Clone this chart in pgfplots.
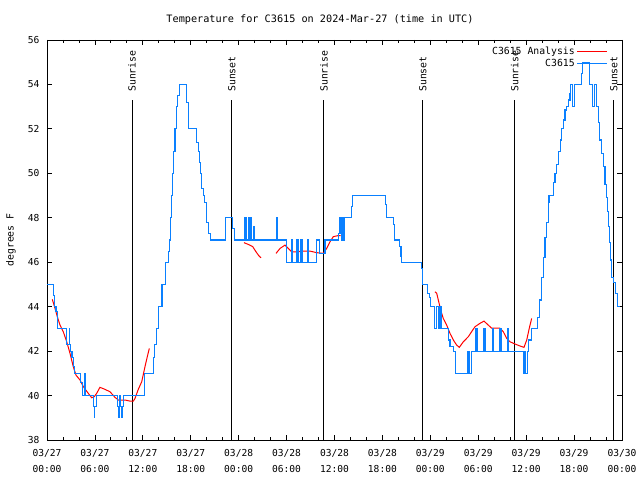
\documentclass[border=0pt]{standalone}
\usepackage{fontspec}
\setmainfont{DejaVu Sans Mono}
\usepackage{pgfplots}
\pgfplotsset{compat=1.18}
\definecolor{obsblue}{HTML}{0A80FF}
\definecolor{anared}{HTML}{FF0000}
\newcommand{\gfont}{\fontsize{9.8}{11}\selectfont}
\newcommand{\tfont}{\fontsize{9.6}{16}\selectfont}

\begin{document}
\begin{tikzpicture}[x=1pt,y=1pt]
\begin{axis}[
    at={(47pt,40pt)}, anchor=south west,
    scale only axis,
    width=575pt, height=400pt,
    xmin=0, xmax=72, ymin=38, ymax=56,
    xtick={0,6,...,72},
    minor xtick={2,4,8,10,14,16,20,22,26,28,32,34,38,40,44,46,50,52,56,58,62,64,68,70},
    xticklabels={03/27\\00:00,03/27\\06:00,03/27\\12:00,03/27\\18:00,
                 03/28\\00:00,03/28\\06:00,03/28\\12:00,03/28\\18:00,
                 03/29\\00:00,03/29\\06:00,03/29\\12:00,03/29\\18:00,03/30\\00:00},
    xticklabel style={align=center, font=\tfont, yshift=-6pt},
    yticklabel style={font=\tfont, xshift=-4pt},
    ytick={38,40,...,56},
    tick pos=both, tick align=inside,
    major tick length=5pt, minor tick length=3pt,
    tick style={black, line width=0.8pt},
    axis line style={line width=0.8pt},
    /pgf/number format/assume math mode=true,
    unbounded coords=jump,
    legend style={at={(1,1)}, anchor=north east, xshift=-11pt, yshift=-3pt,
        draw=none, fill=none, font=\gfont, row sep=-1pt,
        legend cell align=right},
    legend plot pos=right,
    legend image code/.code={\draw[#1] (0pt,0pt) -- (30pt,0pt);},
]
% sunrise / sunset lines
\addplot[black, line width=0.9pt, forget plot] coordinates {(10.64,38) (10.64,53.3)};
\addplot[black, line width=0.9pt, forget plot] coordinates {(23.15,38) (23.15,53.3)};
\addplot[black, line width=0.9pt, forget plot] coordinates {(34.67,38) (34.67,53.3)};
\addplot[black, line width=0.9pt, forget plot] coordinates {(47.06,38) (47.06,53.3)};
\addplot[black, line width=0.9pt, forget plot] coordinates {(58.57,38) (58.57,53.3)};
\addplot[black, line width=0.9pt, forget plot] coordinates {(70.96,38) (70.96,53.3)};
\node[rotate=90, anchor=west, font=\gfont, inner sep=0pt] at (axis cs:10.64,53.66) {Sunrise};
\node[rotate=90, anchor=west, font=\gfont, inner sep=0pt] at (axis cs:23.15,53.66) {Sunset};
\node[rotate=90, anchor=west, font=\gfont, inner sep=0pt] at (axis cs:34.67,53.66) {Sunrise};
\node[rotate=90, anchor=west, font=\gfont, inner sep=0pt] at (axis cs:47.06,53.66) {Sunset};
\node[rotate=90, anchor=west, font=\gfont, inner sep=0pt] at (axis cs:58.57,53.66) {Sunrise};
\node[rotate=90, anchor=west, font=\gfont, inner sep=0pt] at (axis cs:70.96,53.66) {Sunset};

% analysis
\addplot[anared, line width=1pt] coordinates {
(0.66,44.33) (1.0,43.93) (1.29,43.55) (1.63,43.17) (2.04,42.87) (2.47,42.42)
(2.88,41.9) (3.29,41.3) (3.63,40.92) (4.13,40.7) (4.55,40.4) (5.17,40.1)
(5.6,39.9) (5.92,39.95) (6.22,40.1) (6.63,40.37) (7.26,40.28) (7.89,40.17)
(8.51,39.92) (8.93,39.8) (9.77,39.8) (10.39,39.75) (10.81,39.75) (11.02,39.87)
(11.43,40.28) (11.86,40.62) (12.27,41.3) (12.56,41.75) (12.81,42.12)
(18,nan)
(24.67,46.88) (25.21,46.8) (25.76,46.7) (26.17,46.47) (26.55,46.28) (26.8,46.2)
(27.5,nan)
(28.68,46.4) (29.18,46.62) (29.8,46.77) (30.21,46.62) (30.64,46.47) (31.27,46.47)
(32.1,46.5) (32.93,46.5) (33.77,46.43) (34.6,46.4) (35.02,46.62) (35.44,46.92)
(35.85,47.15) (36.48,47.2) (36.78,47.2)
(40,nan)
(48.58,44.67) (48.8,44.6) (49.0,44.3) (49.3,43.85) (49.62,43.47) (50.05,43.17)
(50.46,42.8) (50.88,42.5) (51.3,42.27) (51.63,42.17) (52.13,42.42) (52.76,42.65)
(53.31,42.95) (53.6,43.1) (54.22,43.25) (54.72,43.35) (55.26,43.17) (55.68,43.03)
(56.72,43.03) (57.14,42.87) (57.56,42.57) (57.98,42.42) (58.6,42.32) (59.23,42.23)
(59.73,42.17) (60.07,42.5) (60.39,43.03) (60.69,43.47)
};
\addlegendentry{C3615 Analysis}

% observations
\addplot[obsblue, line width=1.05pt, const plot] coordinates {
(0,45.0) (0.79,44.5) (0.92,44.0) (1.13,43.8) (1.34,43.0) (2.47,42.3) (2.80,43.0)
(2.86,42.3) (2.92,42.0) (3.13,41.7) (3.30,41.3) (3.50,41.0) (4.22,40.6) (4.47,40.0)
(4.76,41.0) (4.82,40.0) (5.80,39.5) (5.89,39.0) (6.00,39.5) (6.14,40.0) (8.80,39.5)
(8.95,39.0) (9.05,40.0) (9.18,39.5) (9.30,39.0) (9.39,39.5) (9.52,40.0) (12.18,41.0)
(13.30,41.7) (13.50,42.3) (13.73,43.0) (14.00,44.0) (14.40,45.0) (14.80,46.0)
(15.19,46.5) (15.32,47.0) (15.45,48.0) (15.60,49.0) (15.74,50.0) (15.87,51.0)
(16.03,52.0) (16.20,53.0) (16.40,53.5) (16.57,54.0) (17.49,53.2) (17.69,52.0)
(18.74,51.4) (18.95,51.0) (19.07,50.5) (19.25,50.0) (19.37,49.3) (19.57,49.0)
(19.78,48.7) (20.00,47.8) (20.20,47.3) (20.50,47.0) (22.38,48.0) (23.20,47.5)
(23.45,47.0) (24.79,48.0) (24.92,47.0) (25.20,48.0) (25.33,47.0) (25.50,48.0)
(25.63,47.0) (25.83,47.6) (25.92,47.0) (28.68,48.0) (28.84,47.0) (30.00,46.0)
(30.68,47.0) (30.80,46.0) (31.30,47.0) (31.43,46.0) (31.80,47.0) (31.93,46.0)
(32.68,47.0) (32.80,46.0) (33.77,47.0) (34.18,46.4) (34.81,47.0) (36.48,47.3)
(36.69,48.0) (36.85,47.0) (37.00,48.0) (37.10,47.0) (37.23,48.0) (38.07,48.5)
(38.23,49.0) (42.41,48.6) (42.54,48.0) (43.36,47.7) (43.49,47.0) (44.08,46.7)
(44.33,46.25) (44.41,46.0) (46.92,45.7) (47.05,45.0) (47.62,44.6) (47.87,44.4)
(48.05,44.0) (48.50,43.0) (48.80,44.0) (49.00,43.0) (49.21,44.0) (49.42,43.0)
(50.25,42.5) (50.46,42.2) (50.88,42.0) (51.19,41.0) (52.69,42.0) (52.76,41.0)
(52.85,42.0) (52.94,41.0) (53.10,42.0) (53.72,43.0) (53.85,42.0) (54.72,43.0)
(54.85,42.0) (55.76,43.0) (55.89,42.0) (56.72,43.0) (56.85,42.0) (57.64,43.0)
(57.77,42.0) (59.64,41.0) (59.85,42.0) (59.94,41.0) (60.19,42.0) (60.33,42.5)
(60.69,43.0) (61.36,43.5) (61.65,44.3) (61.94,45.3) (62.15,46.2) (62.36,47.1)
(62.57,47.8) (62.77,48.7) (62.86,49.0) (63.40,49.6) (63.61,50.0) (63.82,50.4)
(64.03,51.0) (64.24,51.5) (64.45,52.0) (64.65,52.4) (64.86,52.85) (65.07,53.0)
(65.28,53.3) (65.49,53.6) (65.58,54.0) (65.83,53.0) (66.00,54.0) (66.87,54.5)
(67.08,55.0) (67.91,54.0) (68.33,53.0) (68.53,54.0) (68.83,53.0) (69.03,52.3)
(69.24,51.5) (69.45,50.9) (69.66,50.3) (69.87,49.5) (70.00,48.9) (70.16,48.3)
(70.28,47.6) (70.46,46.9) (70.58,46.1) (70.74,45.3) (70.96,45.1) (71.17,44.6)
(71.38,44.0) (71.75,44.0)
};
\addlegendentry{C3615}
\end{axis}
\node[font=\fontsize{10.2}{12}\selectfont] at (320pt,460pt) {Temperature for C3615 on 2024-Mar-27 (time in UTC)};
\node[font=\gfont, rotate=90] at (11pt,240pt) {degrees F};
\pgfresetboundingbox
\path[use as bounding box] (0,0) rectangle (640pt,480pt);
\end{tikzpicture}
\end{document}
